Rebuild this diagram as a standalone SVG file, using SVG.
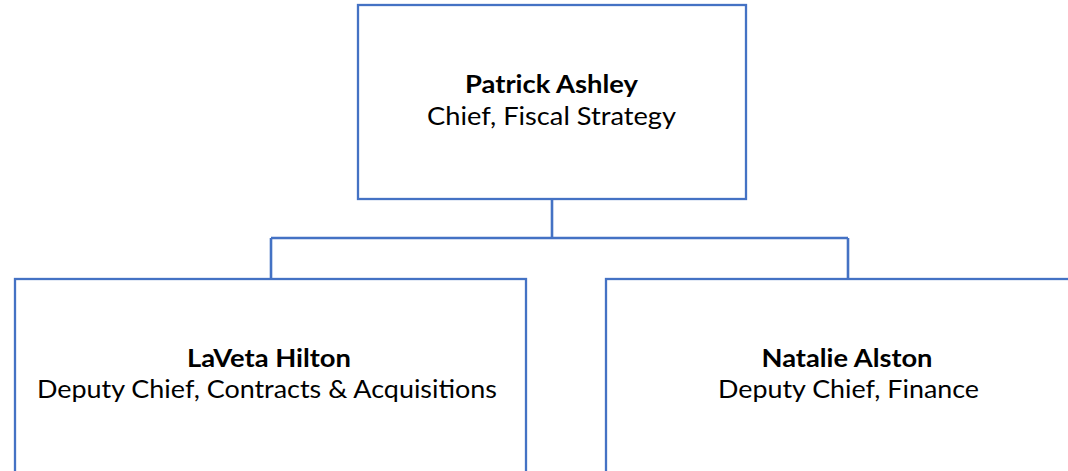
<svg xmlns="http://www.w3.org/2000/svg" width="1068" height="471" viewBox="0 0 1068 471">
  <style>
    .box { fill: #ffffff; stroke: #4472C4; stroke-width: 2.3; }
    .conn { fill: none; stroke: #4472C4; stroke-width: 2.6; }
    .name { font-family: Lato, "Open Sans", "Liberation Sans", sans-serif; font-weight: bold; font-size: 25px; fill: #000000; text-anchor: middle; }
    .title { font-family: Lato, "Open Sans", "Liberation Sans", sans-serif; font-size: 25px; fill: #000000; text-anchor: middle; }
  </style>
  <rect width="1068" height="471" fill="#ffffff"/>
  <g id="connectors">
    <path class="conn" d="M552,199 V238"/>
    <path class="conn" d="M271,238 H848"/>
    <path class="conn" d="M271,238 V279"/>
    <path class="conn" d="M848,238 V279"/>
  </g>
  <g id="node-patrick">
    <rect class="box" x="358" y="5" width="388" height="194"/>
    <text class="name" x="551.5" y="93" textLength="173" lengthAdjust="spacingAndGlyphs">Patrick Ashley</text>
    <text class="title" x="551.5" y="125" textLength="249" lengthAdjust="spacingAndGlyphs">Chief, Fiscal Strategy</text>
  </g>
  <g id="node-laveta">
    <rect class="box" x="15" y="279" width="511" height="194"/>
    <text class="name" x="269" y="366.5" textLength="164" lengthAdjust="spacingAndGlyphs">LaVeta Hilton</text>
    <text class="title" x="267" y="398" textLength="460" lengthAdjust="spacingAndGlyphs">Deputy Chief, Contracts &amp; Acquisitions</text>
  </g>
  <g id="node-natalie">
    <rect class="box" x="606" y="279" width="511" height="194"/>
    <text class="name" x="847" y="366.5" textLength="171" lengthAdjust="spacingAndGlyphs">Natalie Alston</text>
    <text class="title" x="848.5" y="398" textLength="261" lengthAdjust="spacingAndGlyphs">Deputy Chief, Finance</text>
  </g>
</svg>
